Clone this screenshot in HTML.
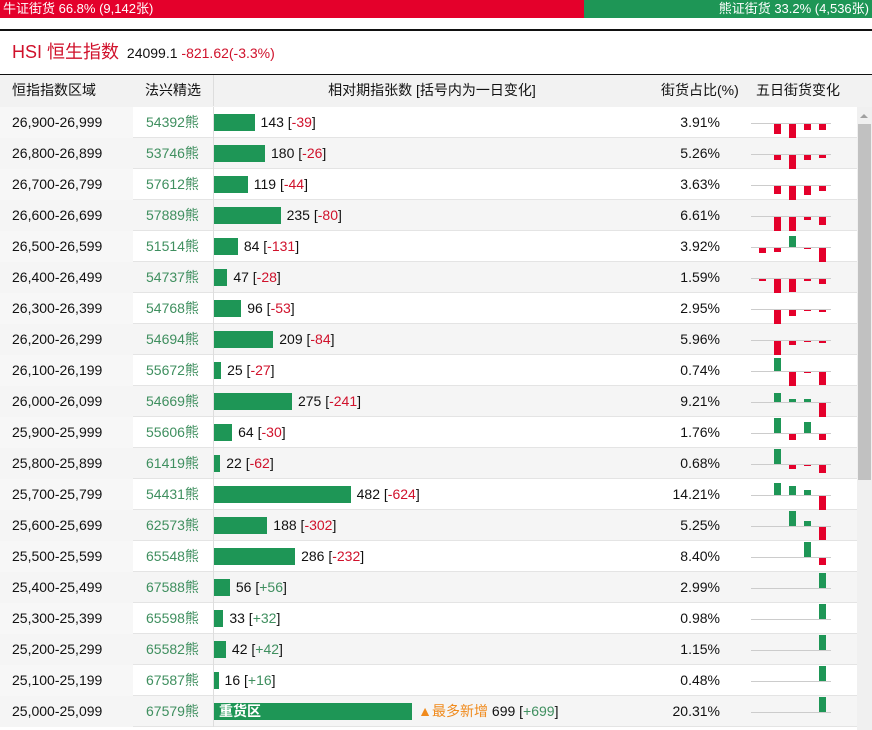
<!DOCTYPE html>
<html><head><meta charset="utf-8">
<style>
*{box-sizing:border-box;margin:0;padding:0}
body{width:872px;height:730px;overflow:hidden;background:#fff;font-family:"Liberation Sans","Noto Sans CJK SC",sans-serif;font-size:14px;color:#111;position:relative}
.abs{position:absolute}
.row{position:absolute;left:0;width:857px;height:31px;border-bottom:1px solid #e4e4e4}
.cell{position:absolute;top:0;height:31px;line-height:30px;white-space:nowrap}
.red{color:#d0112b}.grn{color:#3f8f5f}
</style></head><body>
<div class="abs" style="left:0;top:0;width:584px;height:18px;background:#e4002b;color:#fff;line-height:18px;padding-left:3px;font-size:13px">牛证街货 66.8% (9,142张)</div>
<div class="abs" style="left:584px;top:0;width:288px;height:18px;background:#1e9656;color:#fff;line-height:18px;text-align:right;padding-right:3px;font-size:13px">熊证街货 33.2% (4,536张)</div>
<div class="abs" style="left:0;top:29px;width:872px;height:2px;background:#111"></div>
<div class="abs" style="left:12px;top:39px;line-height:26px;white-space:nowrap"><span style="color:#d0112b;font-size:18px">HSI 恒生指数</span> <span style="font-size:14px;margin-left:4px">24099.1</span> <span class="red" style="font-size:14px">-821.62(-3.3%)</span></div>
<div class="abs" style="left:0;top:74px;width:872px;height:33px;background:#f2f2f2;border-top:1px solid #111;font-size:14px;line-height:31px">
<span class="abs" style="left:12px">恒指指数区域</span>
<span class="abs" style="left:145px">法兴精选</span>
<span class="abs" style="left:213px;width:437px;text-align:center;border-left:1px solid #ddd">相对期指张数 [括号内为一日变化]</span>
<span class="abs" style="left:661px">街货占比(%)</span>
<span class="abs" style="left:756px">五日街货变化</span>
</div>
<div id="rows"></div>
<div class="abs" style="left:857px;top:107px;width:15px;height:623px;background:#f0f0f0"></div>
<div class="abs" style="left:860px;top:114px;width:0;height:0;border-left:4px solid transparent;border-right:4px solid transparent;border-bottom:4px solid #a0a0a0"></div>
<div class="abs" style="left:858px;top:124px;width:13px;height:356px;background:#c1c1c1"></div>
<script>
const ranges=["26,900-26,999","26,800-26,899","26,700-26,799","26,600-26,699","26,500-26,599","26,400-26,499","26,300-26,399","26,200-26,299","26,100-26,199","26,000-26,099","25,900-25,999","25,800-25,899","25,700-25,799","25,600-25,699","25,500-25,599","25,400-25,499","25,300-25,399","25,200-25,299","25,100-25,199","25,000-25,099"];
const codes=["54392","53746","57612","57889","51514","54737","54768","54694","55672","54669","55606","61419","54431","62573","65548","67588","65598","65582","67587","67579"];
const contracts=[143,180,119,235,84,47,96,209,25,275,64,22,482,188,286,56,33,42,16,699];
const changes=[-39,-26,-44,-80,-131,-28,-53,-84,-27,-241,-30,-62,-624,-302,-232,56,32,42,16,699];
const shares=[3.91,5.26,3.63,6.61,3.92,1.59,2.95,5.96,0.74,9.21,1.76,0.68,14.21,5.25,8.40,2.99,0.98,1.15,0.48,20.31];
const spark=[[0,-10,-15,-6,-6],[0,-5,-15,-5,-3],[0,-8,-15,-9,-5],[0,-14,-15,-3,-8],[-5,-4,11,-1,-15],[-2,-15,-13,-2,-5],[0,-15,-6,-1,-2],[0,-15,-4,-1,-2],[0,13,-15,-1,-13],[0,9,3,3,-15],[0,15,-6,11,-6],[0,15,-4,-1,-8],[0,12,9,5,-15],[0,0,15,5,-13],[0,0,0,15,-7],[0,0,0,0,15],[0,0,0,0,15],[0,0,0,0,15],[0,0,0,0,15],[0,0,0,0,15]];
const xBar=v=>v*0.2835;
const root=document.getElementById('rows');
ranges.forEach((r,i)=>{
 const row=document.createElement('div');
 row.className='row';
 
 
 row.style.top=(107+i*31)+'px';
 row.style.background=i%2?'#f5f5f5':'#fff';
 const ch=changes[i];
 const chs=(ch>0?'+':'')+ch;
 const cls=ch>0?'grn':'red';
 let bar='<div style="position:absolute;left:0;top:7px;height:17px;width:'+xBar(contracts[i])+'px;background:#1e9656;color:#fff;font-weight:bold;line-height:17px;padding-left:5px">'+(i===19?'重货区':'')+'</div>';
 let lbl='<span style="position:absolute;left:'+(xBar(contracts[i])+6)+'px">'+(i===19?'<span style="color:#f08a1c">▲最多新增</span> ':'')+contracts[i]+' [<span class="'+cls+'">'+chs+'</span>]</span>';
 let sp='<div style="position:absolute;left:11px;top:16px;width:80px;height:1px;background:#ccc"></div>';
 spark[i].forEach((v,j)=>{if(!v)return;const h=Math.abs(v);
  sp+='<div style="position:absolute;left:'+(19+j*15)+'px;top:'+(v>0?16-h:17)+'px;width:7px;height:'+h+'px;background:'+(v>0?'#1e9656':'#e4002b')+'"></div>';});
 row.innerHTML='<div class="cell" style="left:0;width:133px;padding-left:12px;background:'+(i%2?'#f5f5f5':'#f7f7f7')+'">'+r+'</div>'+
 '<div class="cell grn" style="left:146px">'+codes[i]+'熊</div>'+
 '<div class="cell" style="left:213px;width:437px;border-left:1px solid #ddd">'+bar+lbl+'</div>'+
 '<div class="cell" style="left:650px;width:70px;text-align:right">'+shares[i].toFixed(2)+'%</div>'+
 '<div class="cell" style="left:740px;width:110px">'+sp+'</div>';
 root.appendChild(row);
});
</script>
</body></html>
